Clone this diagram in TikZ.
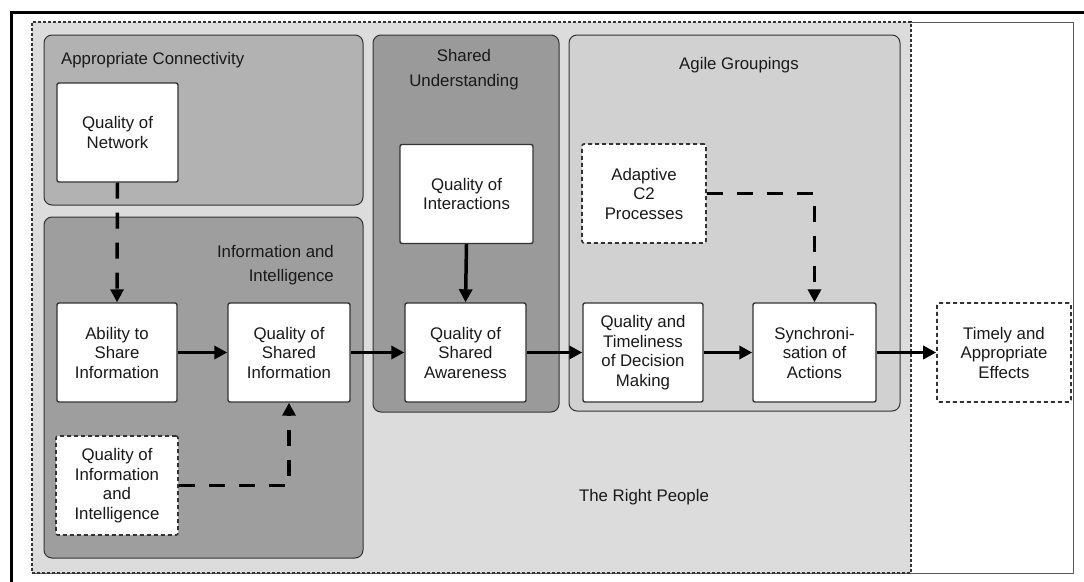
\documentclass[tikz,border=0pt]{standalone}
\usepackage{fontspec}
\setmainfont{Liberation Sans}
\usetikzlibrary{arrows.meta}
\definecolor{outerfill}{HTML}{DCDCDC}
\definecolor{acfill}{HTML}{B2B2B2}
\definecolor{iifill}{HTML}{9E9E9E}
\definecolor{sufill}{HTML}{9A9A9A}
\definecolor{agfill}{HTML}{D1D1D1}
\definecolor{edge}{HTML}{333333}
\begin{document}
\begin{tikzpicture}[x=1pt,y=-1pt,
  every node/.style={font=\fontsize{16.8}{19.5}\selectfont, align=center, inner sep=0pt, text=black!90},
  box/.style={draw=edge, line width=1.4pt, fill=white, rounded corners=2pt, minimum height=99pt},
  dbox/.style={box, line width=1.6pt, dash pattern=on 4pt off 3pt},
  group/.style={draw=edge, line width=1pt, rounded corners=8pt},
  flow/.style={line width=3.5pt, draw=black, -{Triangle[length=13pt,width=13pt]}},
  dflow/.style={flow, dash pattern=on 16pt off 14pt},
  lbl/.style={font=\fontsize{16.8}{24}\selectfont}
]
\useasboundingbox (0,0) rectangle (1084,581);
\fill[white] (0,0) rectangle (1084,581);
% outer frame
\draw[line width=3pt, line cap=rect] (1084,12) -- (11,12) -- (11,581);
\draw[gray!70!black, line width=0.8pt] (32,22) rectangle (1073,573);
% The Right People region
\node[fill=outerfill, draw=edge, line width=1.6pt, dash pattern=on 3pt off 2pt, minimum width=879pt, minimum height=551pt] (rp) at (471.5,297.5) {};
% groups
\node[group, fill=acfill, minimum width=319pt, minimum height=170pt] (ac) at (203.5,120) {};
\node[group, fill=iifill, minimum width=319pt, minimum height=341pt] (ii) at (203.5,387.5) {};
\node[group, fill=sufill, minimum width=186pt, minimum height=377pt] (su) at (466,223.5) {};
\node[group, fill=agfill, minimum width=331pt, minimum height=376pt] (ag) at (734.5,223) {};
% group labels
\node[lbl, anchor=base west] (acl) at (61,64) {Appropriate Connectivity};
\node[lbl, align=right, anchor=east] (iil) at (334,265) {Information and\\Intelligence};
\node[lbl, font=\fontsize{16.8}{25}\selectfont] (sul) at (464,70) {Shared\\Understanding};
\node[lbl] (agl) at (739,65) {Agile Groupings};
\node[lbl] (rpl) at (644,497) {The Right People};
% nodes
\node[box, minimum width=121pt] (qn) at (117.5,132.5) {Quality of\\Network};
\node[box, minimum width=120pt] (ab) at (117,352.5) {Ability to\\Share\\Information};
\node[box, minimum width=122pt] (si) at (289,352.5) {Quality of\\Shared\\Information};
\node[dbox, minimum width=122pt] (qii) at (117,485.5) {Quality of\\Information\\and\\Intelligence};
\node[box, minimum width=133pt] (qi) at (466.5,194) {Quality of\\Interactions};
\node[box, minimum width=121pt] (sa) at (465.5,352.5) {Quality of\\Shared\\Awareness};
\node[dbox, minimum width=124pt] (ad) at (644,193.5) {Adaptive\\C2\\Processes};
\node[box, minimum width=120pt] (dm) at (643,352.5) {Quality and\\Timeliness\\of Decision\\Making};
\node[box, minimum width=123pt] (sy) at (814.5,352.5) {Synchroni-\\sation of\\Actions};
\node[dbox, minimum width=134pt] (te) at (1004,352.5) {Timely and\\Appropriate\\Effects};
% connectors
\draw[dflow] (qn.south) -- (ab.north);
\draw[flow] (ab.east) -- (si.west);
\draw[flow] (si.east) -- (sa.west);
\draw[flow] (qi.south) -- (sa.north);
\draw[flow] (sa.east) -- (dm.west);
\draw[flow] (dm.east) -- (sy.west);
\draw[flow] (sy.east) -- (te.west);
\draw[dflow] (ad.east) -| (sy.north);
\draw[dflow] (qii.east) -| (si.south);
\end{tikzpicture}
\end{document}
